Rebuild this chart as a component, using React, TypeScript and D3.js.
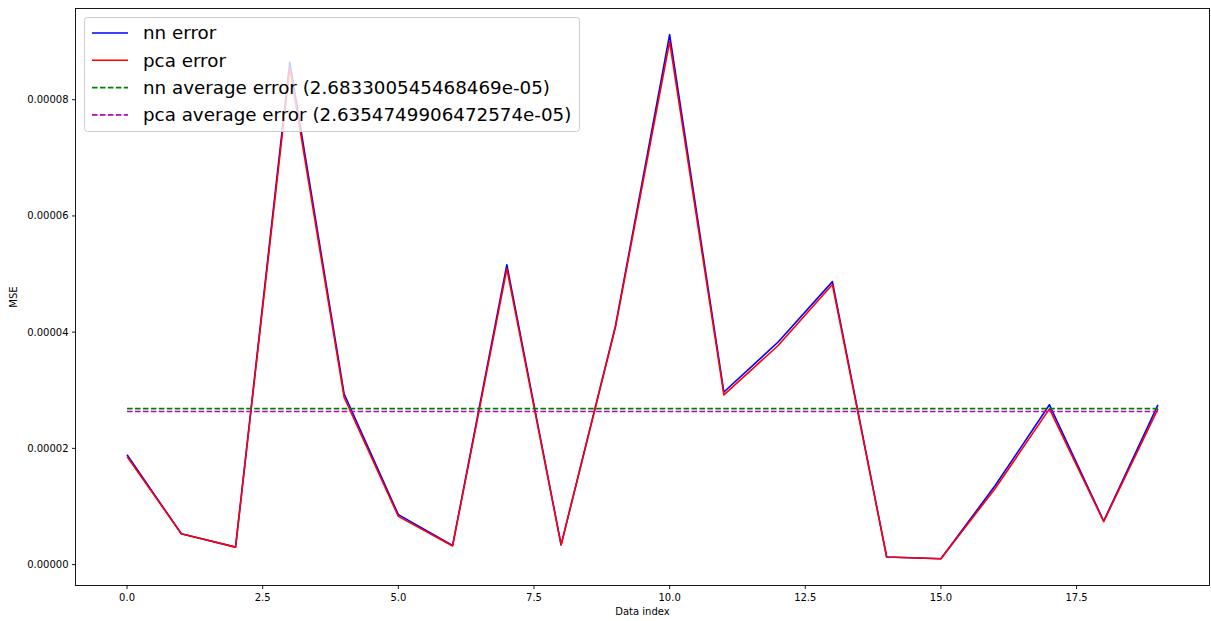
import * as d3 from 'd3';

// values
const indices = [0, 1, 2, 3, 4, 5, 6, 7, 8, 9, 10, 11, 12, 13, 14, 15, 16, 17, 18, 19];
const nnError = [
  1.89e-5, 5.3e-6, 3.0e-6, 8.65e-5, 2.94e-5, 8.6e-6, 3.3e-6, 5.16e-5, 3.4e-6, 4.1e-5,
  9.12e-5, 2.97e-5, 3.83e-5, 4.87e-5, 1.3e-6, 1.0e-6, 1.36e-5, 2.75e-5, 7.5e-6, 2.75e-5,
];
const pcaError = [
  1.86e-5, 5.3e-6, 3.0e-6, 8.55e-5, 2.88e-5, 8.3e-6, 3.2e-6, 5.09e-5, 3.4e-6, 4.08e-5,
  9.0e-5, 2.92e-5, 3.77e-5, 4.82e-5, 1.3e-6, 1.0e-6, 1.31e-5, 2.68e-5, 7.4e-6, 2.68e-5,
];
const nnAvg = 2.683300545468469e-5;
const pcaAvg = 2.6354749906472574e-5;
// printed the way python repr shows them
const nnAvgText = '2.683300545468469e-05';
const pcaAvgText = '2.6354749906472574e-05';
const xTicks = [0, 2.5, 5, 7.5, 10, 12.5, 15, 17.5];
const yTicks = [0, 0.00002, 0.00004, 0.00006, 0.00008];

const W = 1211;
const H = 621;
const m = { left: 75.5, right: 1209.5, top: 8.5, bottom: 585.5 };
const font = '"DejaVu Sans", sans-serif';

export default function App() {
  const x = d3.scaleLinear().domain([-0.95, 19.95]).range([m.left, m.right]);
  const y = d3.scaleLinear().domain([-3.6e-6, 9.57e-5]).range([m.bottom, m.top]);

  const line = d3.line<number>().x((_, i) => x(indices[i])).y(d => y(d));

  const series = [
    { label: 'nn error', values: nnError, color: '#0000ff', dash: undefined as string | undefined },
    { label: 'pca error', values: pcaError, color: '#ff0000', dash: undefined },
    { label: `nn average error (${nnAvgText})`, values: indices.map(() => nnAvg), color: '#008000', dash: '5.55,2.4' },
    { label: `pca average error (${pcaAvgText})`, values: indices.map(() => pcaAvg), color: '#bf00bf', dash: '5.55,2.4' },
  ];

  const legend = { x: 84.5, y: 17.5, w: 495, h: 114, row: 27.3 };

  return (
    <svg width={W} height={H} style={{ position: 'absolute', left: 0, top: 0, background: '#fff' }}>
      <rect x={0} y={0} width={W} height={H} fill="#fff" />
      <g>
        {series.map(s => (
          <path key={s.label} d={line(s.values) ?? ''} fill="none" stroke={s.color}
            strokeWidth={1.6} strokeDasharray={s.dash} strokeLinejoin="round" />
        ))}
      </g>

      {/* axes frame */}
      <rect x={m.left} y={m.top} width={m.right - m.left} height={m.bottom - m.top}
        fill="none" stroke="#000" strokeWidth={0.9} />

      {xTicks.map(t => (
        <g key={t} transform={`translate(${x(t)},${m.bottom})`}>
          <line y2={3.5} stroke="#000" strokeWidth={0.9} />
          <text y={15.5} textAnchor="middle" fontFamily={font} fontSize={10} fill="#000">{t.toFixed(1)}</text>
        </g>
      ))}
      {yTicks.map(t => (
        <g key={t} transform={`translate(${m.left},${y(t)})`}>
          <line x2={-3.5} stroke="#000" strokeWidth={0.9} />
          <text x={-7} dy="0.35em" textAnchor="end" fontFamily={font} fontSize={10} fill="#000">{t.toFixed(5)}</text>
        </g>
      ))}
      <text x={(m.left + m.right) / 2} y={615} textAnchor="middle" fontFamily={font} fontSize={10}>Data index</text>
      <text transform={`translate(17,${(m.top + m.bottom) / 2}) rotate(-90)`} textAnchor="middle"
        fontFamily={font} fontSize={10}>MSE</text>

      {/* legend */}
      <rect x={legend.x} y={legend.y} width={legend.w} height={legend.h} rx={3}
        fill="#fff" fillOpacity={0.8} stroke="#cccccc" strokeWidth={1} />
      {series.map((s, i) => {
        const cy = 33 + i * legend.row;
        return (
          <g key={s.label}>
            <line x1={92} x2={128} y1={cy} y2={cy} stroke={s.color} strokeWidth={1.6} strokeDasharray={s.dash} />
            <text x={143} y={cy} dy="0.35em" fontFamily={font} fontSize={18.3} fill="#000">{s.label}</text>
          </g>
        );
      })}
    </svg>
  );
}
